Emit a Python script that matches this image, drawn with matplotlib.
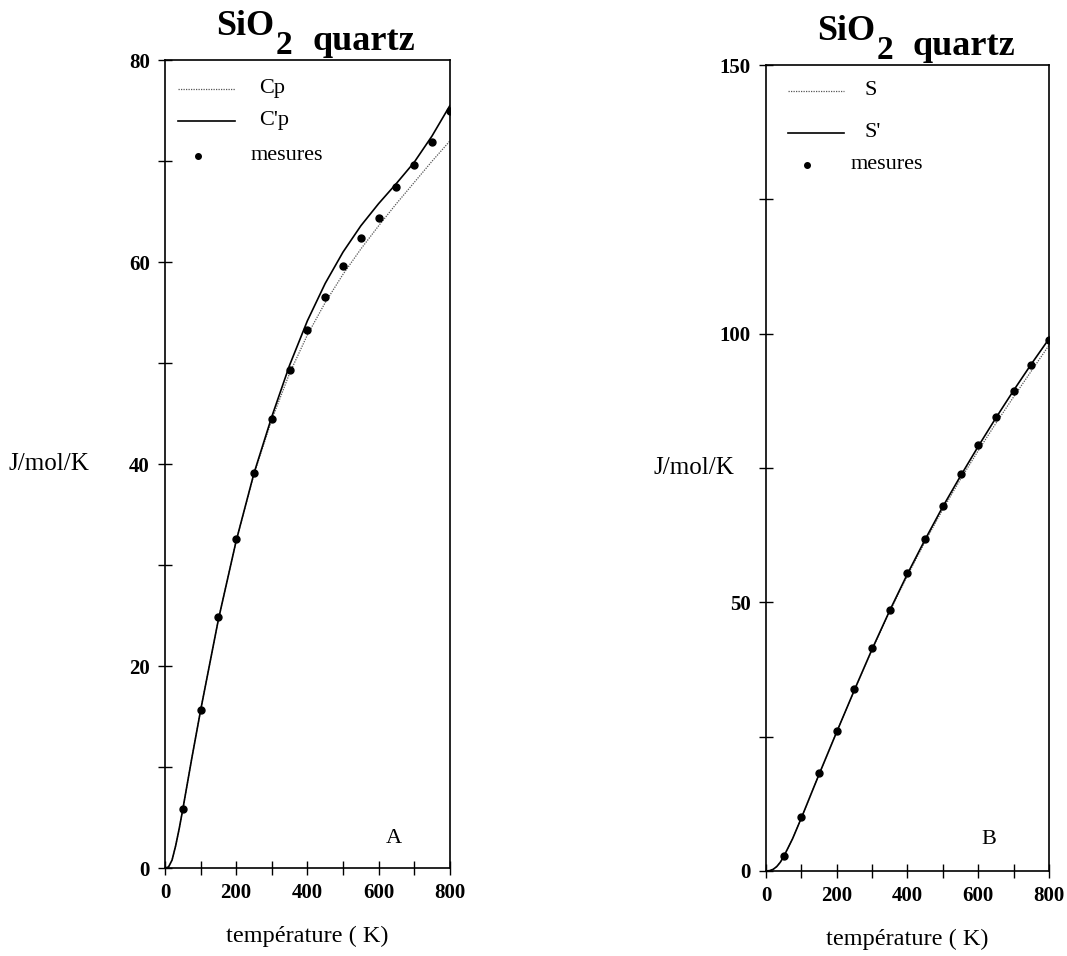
import numpy as np
import matplotlib.pyplot as plt

plt.rcParams['font.family'] = ['Liberation Serif', 'DejaVu Serif']

# temperatures (K)
T_mes = [50, 100, 150, 200, 250, 300, 350, 400, 450, 500, 550, 600, 650, 700, 750, 800]
T_curve = [0, 10, 20, 30, 40, 50, 75, 100, 150, 200, 250, 300, 350, 400, 450, 500,
           550, 600, 650, 700, 750, 800]

# panel A : heat capacity
cp_mes = [5.8, 15.7, 24.9, 32.6, 39.1, 44.5, 49.3, 53.3, 56.6, 59.6, 62.4, 64.4, 67.4,
          69.6, 71.9, 75.0]
cp = [0, 0.1, 0.8, 2.2, 3.9, 5.8, 10.8, 15.6, 24.6, 32.4, 39.0, 44.4, 49.0, 52.8, 56.0,
      58.8, 61.3, 63.6, 65.8, 67.9, 70.0, 72.0]
cp2 = [0, 0.1, 0.8, 2.2, 3.9, 5.8, 10.8, 15.6, 24.6, 32.4, 39.1, 44.7, 49.8, 54.2, 57.9,
       61.0, 63.6, 65.8, 67.8, 69.9, 72.5, 75.5]

# panel B : entropy
s_mes = [2.8, 10.0, 18.2, 26.0, 33.8, 41.4, 48.6, 55.4, 61.8, 68.0, 73.8, 79.2, 84.4,
         89.4, 94.2, 98.8]
s = [0, 0.05, 0.3, 0.8, 1.6, 2.7, 6.0, 9.9, 18.0, 25.9, 33.7, 41.2, 48.3, 55.0, 61.3,
     67.3, 72.9, 78.2, 83.3, 88.2, 93.0, 97.8]
s2 = [0, 0.05, 0.3, 0.8, 1.6, 2.7, 6.0, 9.9, 18.0, 25.9, 33.7, 41.3, 48.5, 55.3, 61.7,
      67.8, 73.5, 79.0, 84.3, 89.4, 94.3, 99.0]

fig = plt.figure(figsize=(10.67, 9.56), dpi=100)
axA = fig.add_axes([0.1546, 0.092, 0.267, 0.845])
axB = fig.add_axes([0.7180, 0.089, 0.265, 0.843])

dotted = dict(color='#555555', lw=0.9, ls=(0, (1, 1)))
solid = dict(color='black', lw=1.2)


def style(ax, ymax, ystep, ylab):
    ax.set_xlim(0, 800)
    ax.set_ylim(0, ymax)
    ax.set_xticks(np.arange(0, 801, 100))
    ax.set_xticklabels([str(v) if v % 200 == 0 else '' for v in range(0, 801, 100)])
    ax.set_yticks(np.arange(0, ymax + 1, ystep))
    ax.set_yticklabels([str(v) if v % ylab == 0 else '' for v in range(0, ymax + 1, ystep)])
    ax.tick_params(direction='inout', length=10, width=1, labelsize=15, pad=6)
    for lab in ax.get_xticklabels() + ax.get_yticklabels():
        lab.set_fontweight('bold')
    for sp in ax.spines.values():
        sp.set_linewidth(1.2)
    ax.set_xlabel('température ( K)', fontsize=17.5, labelpad=16)


def title(ax, x, y):
    # SiO + lowered 2 + quartz
    t1 = ax.text(x, y, 'SiO', transform=ax.transAxes, fontsize=26,
                 fontweight='bold', ha='right', va='baseline')
    t2 = ax.annotate('2', xy=(1, 0), xycoords=t1, xytext=(1, -8),
                     textcoords='offset points', fontsize=24, fontweight='bold',
                     va='baseline')
    ax.annotate('quartz', xy=(1, 0), xycoords=t2, xytext=(14, 8),
                textcoords='offset points', fontsize=26, fontweight='bold',
                va='baseline')


def legend(ax, labels, ys, x0, x1, xt, xm, xdot):
    ax.plot([x0, x1], [ys[0], ys[0]], transform=ax.transAxes, **dotted)
    ax.plot([x0, x1], [ys[1], ys[1]], transform=ax.transAxes, **solid)
    ax.plot([xdot], [ys[2]], 'o', color='black', ms=4, transform=ax.transAxes)
    ax.text(xt, ys[0], labels[0], transform=ax.transAxes, fontsize=16, va='center')
    ax.text(xt, ys[1], labels[1], transform=ax.transAxes, fontsize=16, va='center')
    ax.text(xm, ys[2], labels[2], transform=ax.transAxes, fontsize=16, va='center')


# panel A
axA.plot(T_curve, cp, **dotted)
axA.plot(T_curve, cp2, **solid)
axA.plot(T_mes, cp_mes, 'o', color='black', ms=5)
style(axA, 80, 10, 20)
title(axA, 0.385, 1.031)
axA.text(620, 2.5, 'A', fontsize=16)
axA.text(-0.55, 0.5, 'J/mol/K', transform=axA.transAxes, fontsize=18, va='center')
legend(axA, ['Cp', "C'p", 'mesures'], [0.965, 0.925, 0.882], 0.045, 0.245, 0.33, 0.30,
       0.115)

# panel B
axB.plot(T_curve, s, **dotted)
axB.plot(T_curve, s2, **solid)
axB.plot(T_mes, s_mes, 'o', color='black', ms=5)
style(axB, 150, 25, 50)
title(axB, 0.385, 1.031)
axB.text(610, 5, 'B', fontsize=16)
axB.text(-0.40, 0.5, 'J/mol/K', transform=axB.transAxes, fontsize=18, va='center')
legend(axB, ['S', "S'", 'mesures'], [0.968, 0.916, 0.876], 0.077, 0.277, 0.347, 0.30,
       0.144)

fig.savefig('out.png', dpi=100)
